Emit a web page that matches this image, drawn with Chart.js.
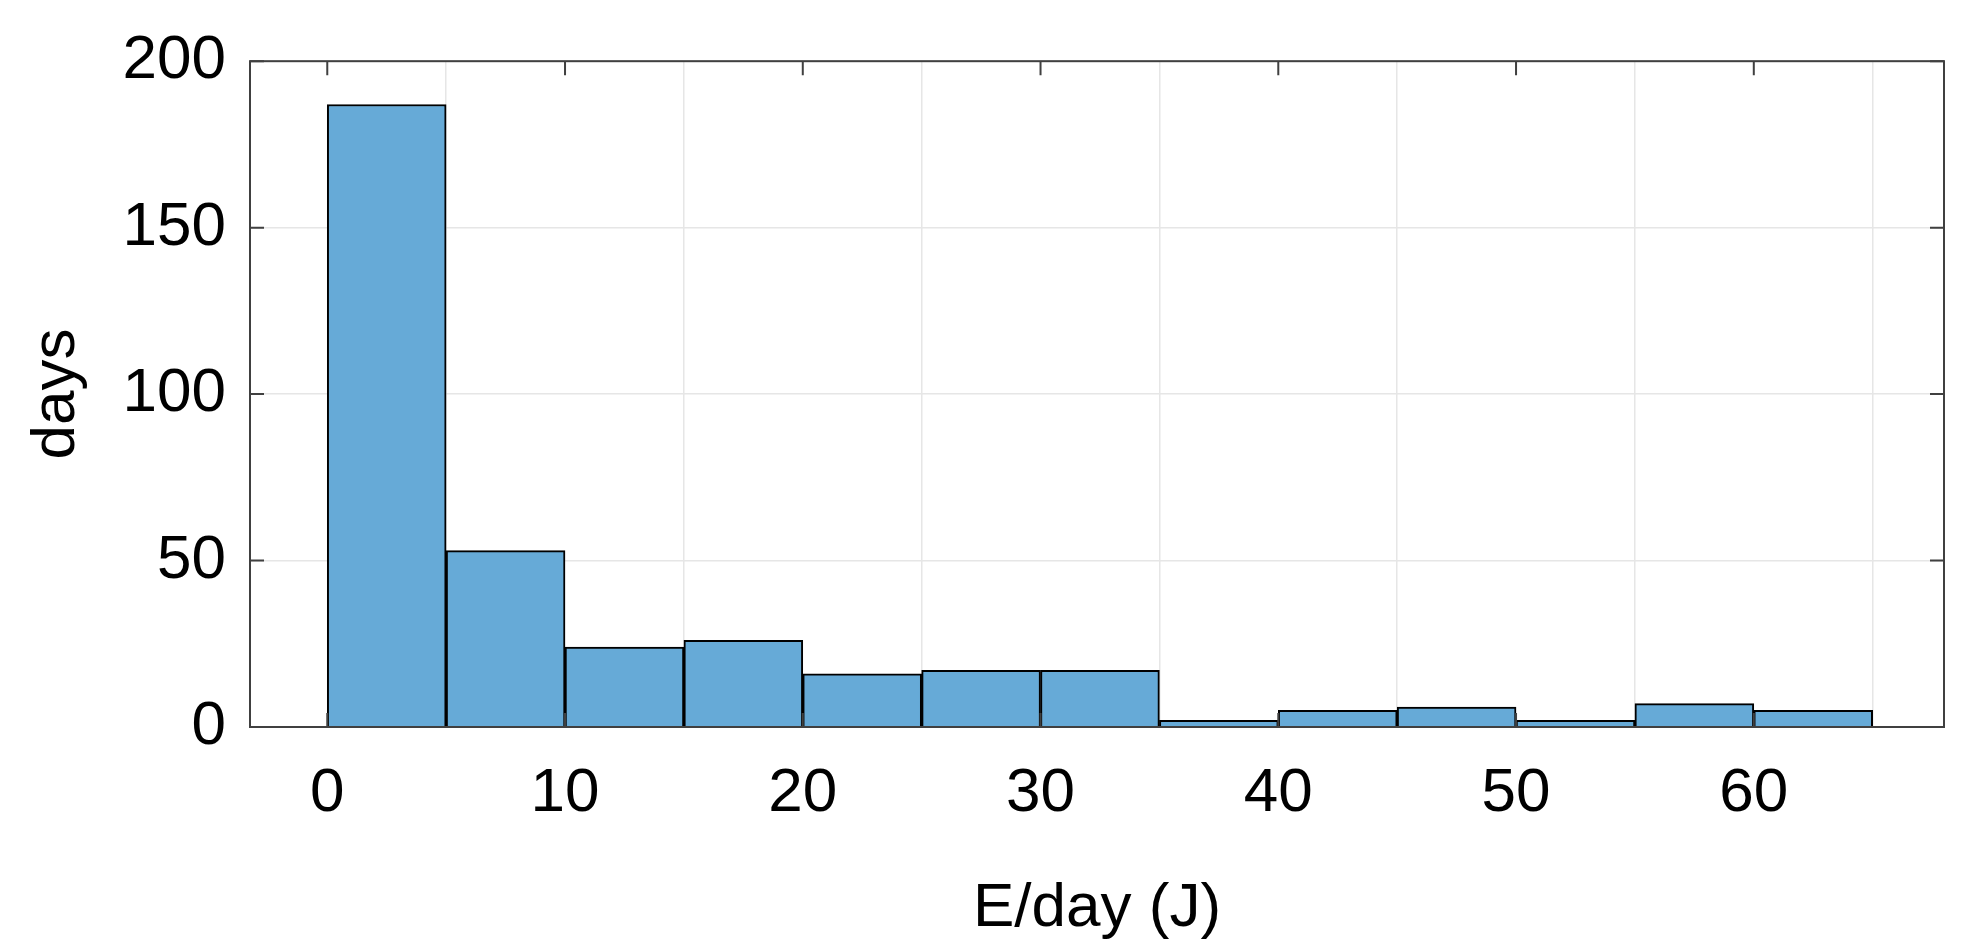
<!DOCTYPE html>
<html><head><meta charset="utf-8">
<script src="https://cdn.jsdelivr.net/npm/chart.js@4/dist/chart.umd.min.js"></script>
<style>html,body{margin:0;background:#fff}#wrap{width:1983px;height:950px}</style>
</head><body><div id="wrap"><canvas id="c"></canvas></div>
<script>
// histogram bins (E/day in J), width 5
const binCenters = [2.5, 7.5, 12.5, 17.5, 22.5, 27.5, 32.5, 37.5, 42.5, 47.5, 52.5, 57.5, 62.5];
const dayCounts = [187, 53, 24, 26, 16, 17, 17, 2, 5, 6, 2, 7, 5];
const xTicks = [0, 10, 20, 30, 40, 50, 60];
const yTicks = [0, 50, 100, 150, 200];

const font = {family: 'Liberation Sans, Arial, sans-serif', size: 62};

// box around plot + inward ticks on all sides, like matlab
const boxPlugin = {
  id: 'box',
  afterDraw(chart) {
    const {ctx, chartArea: a, scales} = chart;
    ctx.save();
    ctx.strokeStyle = '#404040';
    ctx.lineWidth = 2;
    ctx.strokeRect(a.left, a.top, a.right - a.left, a.bottom - a.top);
    const t = 14;
    ctx.beginPath();
    xTicks.forEach(v => {
      const x = scales.x.getPixelForValue(v);
      ctx.moveTo(x, a.bottom); ctx.lineTo(x, a.bottom - t);
      ctx.moveTo(x, a.top); ctx.lineTo(x, a.top + t);
    });
    yTicks.forEach(v => {
      const y = scales.y.getPixelForValue(v);
      ctx.moveTo(a.left, y); ctx.lineTo(a.left + t, y);
      ctx.moveTo(a.right, y); ctx.lineTo(a.right - t, y);
    });
    ctx.stroke();
    ctx.restore();
  }
};

new Chart(document.getElementById('c'), {
  type: 'bar',
  data: {
    datasets: [{
      data: binCenters.map((x, i) => ({x: x, y: dayCounts[i]})),
      backgroundColor: '#66aad7',
      borderColor: '#000',
      borderWidth: 2,
      barPercentage: 1,
      categoryPercentage: 1,
      grouped: false
    }]
  },
  options: {
    responsive: true,
    maintainAspectRatio: false,
    animation: false,
    layout: {padding: {top: 58, right: 39, left: 0, bottom: 0}},
    plugins: {legend: {display: false}, tooltip: {enabled: false}},
    scales: {
      x: {
        type: 'linear', min: -3.25, max: 68, offset: false,
        afterBuildTicks: s => { s.ticks = xTicks.map(v => ({value: v})); },
        afterFit: s => { s.height = 223; },
        ticks: {font: font, color: '#000', padding: 30},
        grid: {color: '#e6e6e6', lineWidth: 1.5, drawTicks: false},
        border: {display: false},
        title: {display: true, text: 'E/day (J)', font: font, color: '#000', padding: {top: 10}}
      },
      y: {
        min: 0, max: 200,
        afterBuildTicks: s => { s.ticks = yTicks.map(v => ({value: v})); },
        afterFit: s => { s.width = 250; },
        ticks: {font: font, color: '#000', padding: 24},
        grid: {color: '#e6e6e6', lineWidth: 1.5, drawTicks: false},
        border: {display: false},
        title: {display: true, text: 'days', font: font, color: '#000', padding: {top: 20, bottom: 0}}
      }
    }
  },
  plugins: [boxPlugin]
});
</script></body></html>
